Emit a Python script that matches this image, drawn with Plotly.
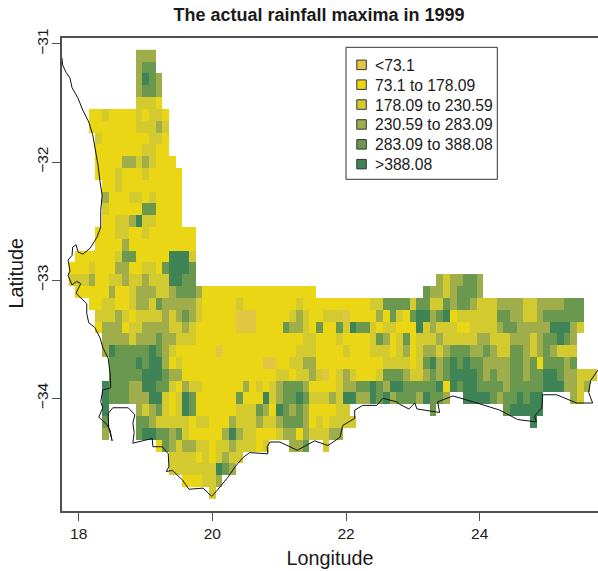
import plotly.graph_objects as go

title = "The actual rainfall maxima in 1999"
class_labels = ["<73.1", "73.1 to 178.09", "178.09 to 230.59", "230.59 to 283.09", "283.09 to 388.08", ">388.08"]
class_colors = ["#E3C544", "#EAD615", "#D2CA2E", "#9FAD4A", "#6A984E", "#3F8456"]

lon_cells = [round(17.9 + 0.1 * k, 1) for k in range(80)]
lat_cells = [round(-31.1 - 0.1 * r, 1) for r in range(38)]

# Rainfall class per grid row: (first column, class digits), spaces are only for readability
rows = [
    [(10, "333")],
    [(10, "344")],
    [(10, "3543")],
    [(10, "3443")],
    [(10, "2221")],
    [(3, "11 2 1111 2 1 22 1")],
    [(3, "1111111 222 3 2")],
    [(4, "2 1111111 22 1")],
    [(4, "1111111 22 11")],
    [(4, "1111 33 2 3 2 111")],
    [(4, "111 2 111 2 11111")],
    [(5, "11 2 111111111")],
    [(5, "3 111 22 1 2 1111")],
    [(5, "2 11111 44 1111")],
    [(5, "11 22 3 5 22 1111")],
    [(4, "111 22 11 2 1111111")],
    [(4, "1111 3 1111111111")],
    [(1, "111111 2 44 11111 555 2")],
    [(0, "111 2 111 33 11 22 1 4 555 4")],
    [(0, "222 3 11 22 3 22 3 222 55 44"), (55, "3 2 33 44 3")],
    [(1, "11111 3 11 2 333 22 3 444 3 11111111111111111"), (53, "4 33 2 3 444 3")],
    [(3, "11 22 11 2 33 2 4 33333 2 11111 2 11111111 2 1111111111 22 4444 2 44 22 4 3 44 3 222 3333 22 3333 444")],
    [(4, "222 3 2 1 2222 3 2 3 4 3 2 11111 000 11111 2 3 2 11 222 0 1111 3 1 4 2 1 4 55 3 4 5 1 222222 44 33 22 3 444444")],
    [(4, "1 333 1 22 3333 22 3 2 111111 000 1111 4 33 2 1 4 11 4 2 5 44 2 1 22 1 11 5 2 3 222 11 2222 3 44 33333 555 3 2")],
    [(5, "3333 2 333 4 33 222 1111111111111111 22 111 2 1111 2 4 3 1 2 4 1 222 3 22222 33 222 333 2 3 44 5 4 3")],
    [(5, "3 5 44444 5 4 3 2 111111 0 11111111111 222 1111 2 111 222 1 2 3 1 2 33 2 3 444 33 4 3 22 44 3 2 3 4 3 222")],
    [(6, "4444 5 4 55 3 1 2 111111111111 00 11 22 33 1111111111 2222 1 2 4 5 3 4 5 4 5 44 3333 44 3 4 1 444 3 4")],
    [(6, "44444 555 4 33 11111111111111 22 1 22 3 2 0 1 2 3 2 111 2 444 3 22 3 4 3 4 5555 4 3 4 33 44 3 44 55 4 33 222")],
    [(5, "5 444 33 55 44 2 1 3 22 111111 3 1 2 1 2 3 444 3 1111 2 33 44 5 4 3 55 44444 5 1 5 4 55 4444 3 44444 555 33 2 3")],
    [(5, "5 444 333 55 2 1 2 5 4 111111 4 111 5 2 3 44 5 4 222 3 2 55 33 5 4 5 3 4 44 3 5 44 3"), (59, "5555 4 3 44 5 4 55"), (75, "3 2")],
    [(5, "5"), (10, "3 2 3 4 2 1 2 5 4 111111 222 4 3 1 5 4 3 4 3 1111 22"), (54, "4"), (65, "4 55555")],
    [(5, "4"), (10, "44 3 22222 1 2 2 111 3 222 3 22 3 444 3 1 2 1 2222"), (69, "5")],
    [(5, "3"), (10, "4 55 44 3 4 2 11111 3 5 3 22 111 2 33 1 3 222 33")],
    [(13, "1 4 3 2 33 22 1 22 3 222 1 2"), (33, "33 4"), (38, "2")],
    [(15, "2222 1 2 1 2 3 22")],
    [(15, "2222222 5 4 3")],
    [(17, "111 22 3")],
    [(21, "2")],
]

coast_lon = [17.75, 17.76, 17.81, 17.87, 17.90, 17.99, 18.06, 18.15, 18.21, 18.24, 18.29, 18.32, 18.35, 18.33, 18.33,
             18.27, 18.17, 18.06, 17.99, 17.96, 17.91, 17.90, 17.84, 17.87, 17.84, 17.90, 17.97, 18.03, 17.96, 18.12,
             18.12, 18.15, 18.24, 18.32, 18.36, 18.44, 18.47, 18.48, 18.36, 18.33, 18.36, 18.30, 18.42, 18.47, 18.50,
             18.45, 18.44, 18.51, 18.74, 18.84, 18.81, 18.83, 18.81, 19.10, 19.11, 19.25, 19.34, 19.35, 19.31, 19.40,
             19.55, 19.65, 19.86, 19.99, 20.07, 20.23, 20.34, 20.46, 20.56, 20.83, 20.82, 20.86, 21.01, 21.27, 21.53,
             21.73, 21.91, 21.95, 22.13, 22.13, 22.25, 22.46, 22.55, 22.76, 22.80, 22.94, 23.03, 23.06, 23.40, 23.37,
             23.60, 23.96, 24.30, 24.57, 24.85, 24.82, 24.93, 24.94, 25.15, 25.45, 25.69, 25.63, 25.66, 25.77]
coast_lat = [-31.12, -31.18, -31.24, -31.29, -31.37, -31.46, -31.56, -31.66, -31.77, -31.87, -32.03, -32.17, -32.28, -32.41, -32.55,
             -32.64, -32.73, -32.78, -32.76, -32.70, -32.72, -32.79, -32.83, -32.92, -32.96, -33.04, -33.01, -33.03, -33.11, -33.20,
             -33.28, -33.36, -33.40, -33.49, -33.57, -33.66, -33.79, -33.91, -33.93, -34.03, -34.08, -34.16, -34.22, -34.27, -34.36,
             -34.25, -34.13, -34.08, -34.08, -34.14, -34.21, -34.29, -34.38, -34.34, -34.41, -34.41, -34.47, -34.58, -34.62, -34.61,
             -34.69, -34.77, -34.76, -34.83, -34.78, -34.67, -34.58, -34.50, -34.46, -34.47, -34.41, -34.37, -34.37, -34.44, -34.36,
             -34.40, -34.33, -34.23, -34.17, -34.10, -34.06, -34.06, -34.00, -34.03, -34.05, -34.09, -34.04, -34.09, -34.12, -34.03,
             -33.98, -34.04, -34.10, -34.18, -34.20, -34.15, -34.08, -33.97, -33.97, -34.04, -34.04, -33.95, -33.85, -33.76]

x_ticks = [18, 20, 22, 24]
y_ticks = [-31, -32, -33, -34]

z = [[None] * len(lon_cells) for _ in lat_cells]
for r, segments in enumerate(rows):
    for start, digits in segments:
        for i, ch in enumerate(digits.replace(" ", "")):
            z[r][start + i] = int(ch)

n = len(class_colors)
scale = []
for i, c in enumerate(class_colors):
    scale += [[i / n, c], [(i + 1) / n, c]]

FONT = "Liberation Sans, Arial, Helvetica, sans-serif"
INK = "#1a1a1a"
AXIS = "#505050"
W, H = 598, 571
L, R, T, B = 62, 598, 38, 511


def px(x):
    return (x - L) / (R - L)


def py(y):
    return (B - y) / (B - T)


fig = go.Figure()
fig.add_trace(go.Heatmap(x=lon_cells, y=lat_cells, z=z, zmin=-0.5, zmax=5.5, colorscale=scale,
                         showscale=False, hoverongaps=False))
fig.add_trace(go.Scatter(x=coast_lon, y=coast_lat, mode="lines", line=dict(color="#111111", width=1),
                         showlegend=False))

shapes = [dict(type="rect", xref="paper", yref="paper", x0=px(346), x1=px(497.3), y0=py(47.3), y1=py(179.3),
               line=dict(color="#333333", width=1), fillcolor="white", layer="above")]
annotations = []
row_y = [65.3, 85.1, 105, 124.9, 144.8, 164.6]
for label, color, y in zip(class_labels, class_colors, row_y):
    shapes.append(dict(type="rect", xref="paper", yref="paper", x0=px(356.8), x1=px(366.3), y0=py(y - 5.2), y1=py(y + 4.3),
                       line=dict(color="#333333", width=1), fillcolor=color, layer="above"))
    annotations.append(dict(text=label, xref="paper", yref="paper", x=px(372.5), y=py(y), xanchor="left", yanchor="middle",
                            showarrow=False, font=dict(size=15.7, family=FONT, color=INK)))
# Latitude axis title, placed where the reference has it
annotations.append(dict(text="Latitude", xref="paper", yref="paper", x=px(15.5), y=py(274), xanchor="center", yanchor="middle",
                        textangle=-90, showarrow=False, font=dict(size=19.8, family=FONT, color=INK)))

fig.update_layout(
    width=W, height=H, autosize=False,
    margin=dict(l=L, r=W - R, t=T, b=H - B),
    paper_bgcolor="white", plot_bgcolor="white", showlegend=False,
    font=dict(family=FONT, color=INK),
    title=dict(text="<b>" + title + "</b>", font=dict(size=18, family=FONT, color=INK),
               x=319 / W, xanchor="center", y=1 - 15 / H, yanchor="middle"),
    shapes=shapes, annotations=annotations,
)
fig.update_xaxes(range=[17.75, 25.77], tickvals=x_ticks, ticks="outside", ticklen=8, tickwidth=1, tickcolor=AXIS,
                 showline=True, linecolor=AXIS, linewidth=1.5, mirror=True, showgrid=False, zeroline=False,
                 tickfont=dict(size=15.5), title=dict(text="Longitude", font=dict(size=19.8), standoff=10), automargin=False)
fig.update_yaxes(range=[-34.954, -30.95], tickvals=y_ticks, ticks="outside", ticklen=8, tickwidth=1, tickcolor=AXIS,
                 showline=True, linecolor=AXIS, linewidth=1.5, mirror=False, showgrid=False, zeroline=False,
                 tickangle=-90, tickfont=dict(size=15.5), ticklabelstandoff=-2, automargin=False)
fig.write_html("out.html", config=dict(displayModeBar=False),
               post_script="document.body.style.margin='0';document.body.style.overflow='hidden';")
